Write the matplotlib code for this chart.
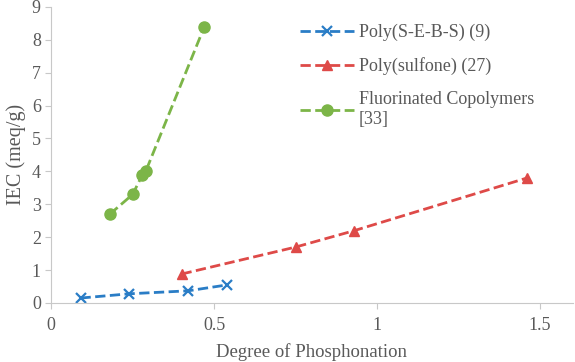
import matplotlib
matplotlib.use("Agg")
import matplotlib.pyplot as plt

plt.rcParams['font.family'] = ['Liberation Serif', 'DejaVu Serif']

seb_x = [0.09, 0.24, 0.42, 0.54]
seb_y = [0.15, 0.28, 0.37, 0.55]
sulf_x = [0.40, 0.75, 0.93, 1.46]
sulf_y = [0.88, 1.70, 2.20, 3.80]
fluo_x = [0.18, 0.25, 0.28, 0.29, 0.47]
fluo_y = [2.70, 3.30, 3.90, 4.00, 8.40]

labels = ["Poly(S-E-B-S) (9)", "Poly(sulfone) (27)", "Fluorinated Copolymers\n[33]"]
xticks = [0, 0.5, 1, 1.5]
xtick_labels = ["0", "0.5", "1", "1.5"]

grey = "#595959"
fig = plt.figure(figsize=(5.75, 3.62), dpi=100)
ax = fig.add_axes([0.089, 0.163, 0.907, 0.818])

ax.plot(seb_x, seb_y, ls="--", color="#2a7dc6", lw=2, marker="x", ms=7, mew=1.6, label=labels[0])
ax.plot(sulf_x, sulf_y, ls="--", color="#de4a48", lw=2, marker="^", ms=7, label=labels[1])
ax.plot(fluo_x, fluo_y, ls="--", color="#7cb548", lw=2, marker="o", ms=8, label=labels[2])

ax.set_xlim(0, 1.6)
ax.set_ylim(0, 9)
ax.set_xticks(xticks)
ax.set_xticklabels(xtick_labels)
ax.set_yticks(range(10))
for s in ["top", "right"]:
    ax.spines[s].set_visible(False)
for s in ["left", "bottom"]:
    ax.spines[s].set_color("#c8c8c8")
ax.tick_params(colors=grey, labelsize=13, length=4, color="#c8c8c8")
ax.tick_params(axis="x", pad=6)
ax.set_xlabel("Degree of Phosphonation", color=grey, fontsize=13.5, labelpad=7)
ax.set_ylabel("IEC (meq/g)", color=grey, fontsize=14.5)

leg = ax.legend(loc="upper left", bbox_to_anchor=(0.445, 0.998), frameon=False,
                fontsize=13, labelcolor=grey, handlelength=3, labelspacing=0.9,
                handletextpad=0.3)

fig.savefig("out.png", dpi=100)
